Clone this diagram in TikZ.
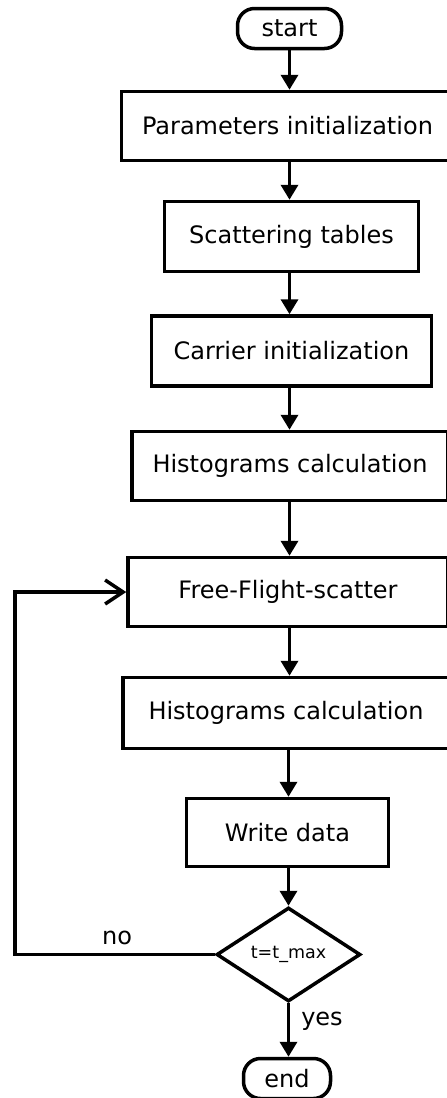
\documentclass[tikz,border=0pt]{standalone}
\usepackage{fontspec}
\setmainfont{DejaVu Sans}
\usetikzlibrary{shapes.geometric,arrows.meta}
\begin{document}
\begin{tikzpicture}[x=1pt,y=-1pt,
  line width=3.5pt,
  box/.style={draw, rectangle, inner sep=0pt, font=\fontsize{24}{28}\selectfont},
  term/.style={box, rounded corners=17pt},
  dec/.style={draw, diamond, inner sep=0pt, font=\fontsize{17.5}{20}\selectfont},
  arr/.style={-{Triangle[width=17pt,length=15pt]}},
  loop/.style={-{Straight Barb[length=18pt,width=24pt]}},
  lbl/.style={font=\fontsize{24}{28}\selectfont, inner sep=0pt}]
\useasboundingbox (0,0) rectangle (447,1098);
\clip (0,0) rectangle (447,1098);
\node[term, minimum width=104pt, minimum height=40pt] (start) at (289.5,28.5) {start};
\node[box, minimum width=332pt, minimum height=69pt] (p1) at (287.5,126) {Parameters initialization};
\node[box, minimum width=254pt, minimum height=70pt] (p2) at (291.5,236.5) {Scattering tables};
\node[box, minimum width=280pt, minimum height=70pt] (p3) at (291.5,351) {Carrier initialization};
\node[box, minimum width=316pt, minimum height=69pt] (p4) at (290,466) {Histograms calculation};
\node[box, minimum width=320pt, minimum height=69pt] (p5) at (288,592) {Free-Flight-scatter};
\node[box, minimum width=326pt, minimum height=71pt] (p6) at (286,713) {Histograms calculation};
\node[box, minimum width=202pt, minimum height=68pt] (p7) at (287.5,832.5) {Write data};
\node[dec, minimum width=144pt, minimum height=94pt] (dia) at (288.5,954.5) {t=t\_max};
\node[term, minimum width=87pt, minimum height=40pt] (end) at (287,1078.5) {end};
\coordinate (lc) at (15,954.5);
\draw[arr] (start.south) -- (start.south |- p1.north);
\draw[arr] (start.south |- p1.south) -- (start.south |- p2.north);
\draw[arr] (start.south |- p2.south) -- (start.south |- p3.north);
\draw[arr] (start.south |- p3.south) -- (start.south |- p4.north);
\draw[arr] (start.south |- p4.south) -- (start.south |- p5.north);
\draw[arr] (start.south |- p5.south) -- (start.south |- p6.north);
\draw[arr] (dia.north |- p6.south) -- (dia.north |- p7.north);
\draw[arr] (dia.north |- p7.south) -- (dia.north);
\draw[arr] (dia.south) -- (dia.south |- end.north);
\draw[loop] (dia.west) -- (lc) |- (p5.west);
\node[lbl] (no) at (117,938) {no};
\node[lbl] (yes) at (322,1021) {yes};
\end{tikzpicture}
\end{document}
